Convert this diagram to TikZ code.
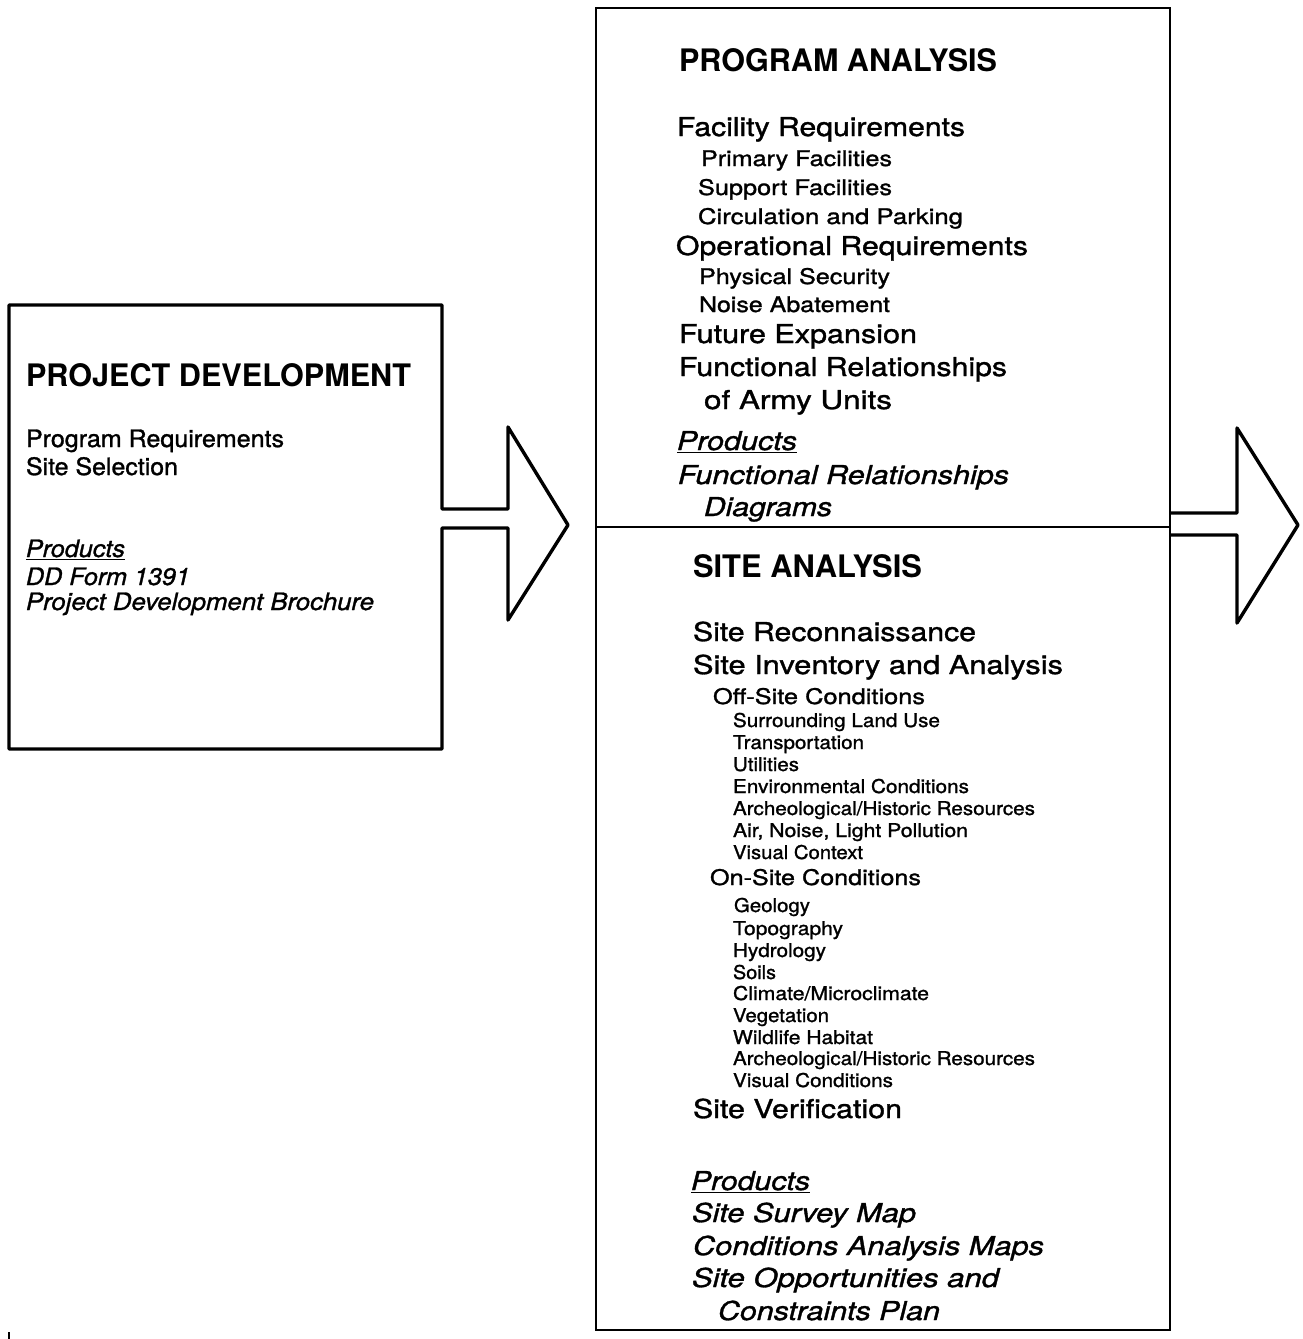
\documentclass[tikz,border=0pt]{standalone}
\usepackage{fontspec}
\setmainfont{TeX Gyre Heros}[UprightFeatures={FakeBold=1.2}, ItalicFeatures={FakeBold=1.2}]
\usepackage{graphicx}
\newcommand\fitw[2]{\resizebox{#1pt}{\height}{#2}}
\tikzset{
  txt/.style={anchor=base west, inner sep=0pt, outer sep=0pt},
  ttl/.style={txt, font=\bfseries\fontsize{31}{31}\selectfont},
  bigt/.style={txt, font=\fontsize{26}{26}\selectfont},
  bigi/.style={txt, font=\itshape\fontsize{26}{26}\selectfont},
  medt/.style={txt, font=\fontsize{21.5}{21.5}\selectfont},
  smlt/.style={txt, font=\fontsize{19}{19}\selectfont},
  lft/.style={txt, font=\fontsize{24}{24}\selectfont},
  lfi/.style={txt, font=\itshape\fontsize{24}{24}\selectfont},
  outline/.style={draw=black, line width=3.4pt, line join=round},
  boxline/.style={draw=black, line width=2.8pt},
  divline/.style={draw=black, line width=2pt}
}
\begin{document}
\begin{tikzpicture}[x=1pt,y=-1pt]
\useasboundingbox (0,0) rectangle (1302,1339);
% left box with arrow
\draw[outline] (442,509) -- (442,305) -- (9,305) -- (9,749) -- (442,749) -- (442,528)
  -- (508,528) -- (508,620) -- (568,525) -- (508,427) -- (508,509) -- cycle;
% right box
\draw[boxline] (596,8) rectangle (1170,1330);
\draw[divline] (596,527) -- (1170,527);
\draw[outline] (1170,513) -- (1237,513) -- (1237,428) -- (1298,525) -- (1237,623) -- (1237,535) -- (1170,535);
\draw[line width=2pt] (9,1332) -- (9,1339);
% left box text
\node[ttl] (pd) at (26,386) {\fitw{385}{PROJECT DEVELOPMENT}};
\node[lft] (pr) at (26,447) {\fitw{258}{Program Requirements}};
\node[lft] (ss) at (26,475) {\fitw{152}{Site Selection}};
\node[lfi] (lp) at (26,557) {\fitw{99}{\underline{Products}}};
\node[lfi] (dd) at (26,585) {\fitw{164}{DD Form 1391}};
\node[lfi] (pdb) at (26,610) {\fitw{348}{Project Development Brochure}};
% program analysis
\node[ttl] (pa) at (679,71) {\fitw{318}{PROGRAM ANALYSIS}};
\node[bigt] (fr) at (677,136) {\fitw{288}{Facility Requirements}};
\node[medt] (pf) at (701,166) {\fitw{191}{Primary Facilities}};
\node[medt] (sf) at (698,195) {\fitw{194}{Support Facilities}};
\node[medt] (cp) at (698,224) {\fitw{265}{Circulation and Parking}};
\node[bigt] (or) at (676,255) {\fitw{352}{Operational Requirements}};
\node[medt] (ps) at (699,284) {\fitw{191}{Physical Security}};
\node[medt] (na) at (699,312) {\fitw{191}{Noise Abatement}};
\node[bigt] (fe) at (679,343) {\fitw{238}{Future Expansion}};
\node[bigt] (frl) at (679,376) {\fitw{328}{Functional Relationships}};
\node[bigt] (au) at (704,409) {\fitw{188}{of Army Units}};
\node[bigi] (pp) at (677,450) {\fitw{120}{\underline{Products}}};
\node[bigi] (frd) at (678,484) {\fitw{331}{Functional Relationships}};
\node[bigi] (dg) at (704,516) {\fitw{128}{Diagrams}};
% site analysis
\node[ttl] (sa) at (693,577) {\fitw{229}{SITE ANALYSIS}};
\node[bigt] (sr) at (693,641) {\fitw{283}{Site Reconnaissance}};
\node[bigt] (si) at (693,674) {\fitw{370}{Site Inventory and Analysis}};
\node[medt] (off) at (713,704) {\fitw{212}{Off-Site Conditions}};
\node[smlt] (s1) at (733,727) {\fitw{207}{Surrounding Land Use}};
\node[smlt] (s2) at (733,749) {\fitw{131}{Transportation}};
\node[smlt] (s3) at (733,771) {\fitw{66}{Utilities}};
\node[smlt] (s4) at (733,793) {\fitw{236}{Environmental Conditions}};
\node[smlt] (s5) at (733,815) {\fitw{302}{Archeological/Historic Resources}};
\node[smlt] (s6) at (733,837) {\fitw{235}{Air, Noise, Light Pollution}};
\node[smlt] (s7) at (733,859) {\fitw{130}{Visual Context}};
\node[medt] (on) at (710,885) {\fitw{211}{On-Site Conditions}};
\node[smlt] (g1) at (734,912) {\fitw{76}{Geology}};
\node[smlt] (g2) at (733,935) {\fitw{110}{Topography}};
\node[smlt] (g3) at (733,957) {\fitw{93}{Hydrology}};
\node[smlt] (g4) at (733,979) {\fitw{43}{Soils}};
\node[smlt] (g5) at (733,1000) {\fitw{196}{Climate/Microclimate}};
\node[smlt] (g6) at (733,1022) {\fitw{96}{Vegetation}};
\node[smlt] (g7) at (733,1044) {\fitw{140}{Wildlife Habitat}};
\node[smlt] (g8) at (733,1065) {\fitw{302}{Archeological/Historic Resources}};
\node[smlt] (g9) at (733,1087) {\fitw{160}{Visual Conditions}};
\node[bigt] (sv) at (693,1118) {\fitw{209}{Site Verification}};
\node[bigi] (sp) at (691,1190) {\fitw{119}{\underline{Products}}};
\node[bigi] (sm) at (692,1222) {\fitw{224}{Site Survey Map}};
\node[bigi] (ca) at (693,1255) {\fitw{351}{Conditions Analysis Maps}};
\node[bigi] (so) at (692,1287) {\fitw{307}{Site Opportunities and}};
\node[bigi] (cpl) at (718,1320) {\fitw{222}{Constraints Plan}};
\end{tikzpicture}
\end{document}
